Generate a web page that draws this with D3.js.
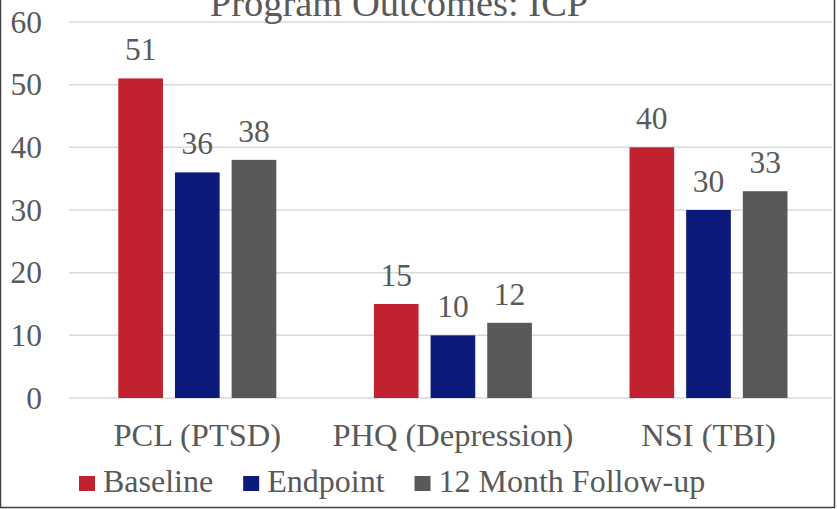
<!DOCTYPE html>
<html>
<head>
<meta charset="utf-8">
<script src="https://cdn.jsdelivr.net/npm/d3@7"></script>
<style>
  body { margin: 0; background: #fff; }
  svg { display: block; }
</style>
</head>
<body>
<div id="chart"></div>
<script>
var categories = ['PCL (PTSD)', 'PHQ (Depression)', 'NSI (TBI)'],
    seriesNames = ['Baseline', 'Endpoint', '12 Month Follow-up'],
    baseline = [51, 15, 40],
    endpoint = [36, 10, 30],
    followUp = [38, 12, 33],
    yTicks = [0, 10, 20, 30, 40, 50, 60],
    colors = ['#C0232F', '#0C1A7C', '#595959'];

var width = 837,
    height = 509,
    font = "'Times New Roman', 'Liberation Serif', Tinos, 'DejaVu Serif', serif",
    values = [baseline, endpoint, followUp];

var svg = d3.select('#chart').append('svg')
      .attr('width', width)
      .attr('height', height)
      .attr('font-family', font)
      .attr('fill', '#595959');

// outer chart border (top edge is cropped off)
svg.append('rect')
  .attr('x', 0.5).attr('y', -10)
  .attr('width', 834).attr('height', 517.5)
  .attr('fill', 'none')
  .attr('stroke', '#404040')
  .attr('stroke-width', 1.5);

var x0 = d3.scaleBand().domain(categories).range([69.5, 836.3]),
    x1 = d3.scaleBand().domain(seriesNames).range([-79, 79]).paddingInner(0.2116),
    y = d3.scaleLinear().domain([0, 60]).range([398, 22]);

// gridlines
svg.append('g').selectAll('line')
  .data(yTicks)
  .enter().append('line')
  .attr('x1', 69).attr('x2', 832)
  .attr('y1', function(d) { return y(d); })
  .attr('y2', function(d) { return y(d); })
  .attr('stroke', '#d9d9d9')
  .attr('stroke-width', 1.5);

// y tick labels
svg.append('g').selectAll('text')
  .data(yTicks)
  .enter().append('text')
  .attr('x', 42)
  .attr('y', function(d) { return y(d); })
  .attr('dy', '0.34em')
  .attr('text-anchor', 'end')
  .attr('font-size', 31.5)
  .text(function(d) { return d; });

// bars
var groups = svg.append('g').selectAll('g')
  .data(categories)
  .enter().append('g')
  .attr('transform', function(d) { return 'translate(' + (x0(d) + x0.bandwidth() / 2) + ',0)'; });

groups.each(function(cat, ci) {
  var g = d3.select(this),
      rows = seriesNames.map(function(s, si) { return {s: s, i: si, v: values[si][ci]}; });

  g.selectAll('rect')
    .data(rows)
    .enter().append('rect')
    .attr('x', function(d) { return x1(d.s); })
    .attr('width', x1.bandwidth())
    .attr('y', function(d) { return y(d.v); })
    .attr('height', function(d) { return y(0) - y(d.v); })
    .attr('fill', function(d) { return colors[d.i]; });

  g.selectAll('text')
    .data(rows)
    .enter().append('text')
    .attr('x', function(d) { return x1(d.s) + x1.bandwidth() / 2; })
    .attr('y', function(d) { return y(d.v) - 18; })
    .attr('text-anchor', 'middle')
    .attr('font-size', 31.5)
    .text(function(d) { return d.v; });
});

// category labels
svg.append('g').selectAll('text')
  .data(categories)
  .enter().append('text')
  .attr('x', function(d) { return x0(d) + x0.bandwidth() / 2; })
  .attr('y', 446)
  .attr('text-anchor', 'middle')
  .attr('font-size', 32.5)
  .text(function(d) { return d; });

// title
svg.append('text')
  .attr('x', 399)
  .attr('y', 16)
  .attr('text-anchor', 'middle')
  .attr('font-size', 38.5)
  .text('Program Outcomes: ICP');

// legend
var legend = svg.append('g'),
    lx = 79;

seriesNames.forEach(function(name, i) {
  var item = legend.append('g').attr('transform', 'translate(' + lx + ',0)');
  item.append('rect')
    .attr('x', 0).attr('y', 476)
    .attr('width', 16).attr('height', 15)
    .attr('fill', colors[i]);
  var t = item.append('text')
    .attr('x', 24).attr('y', 492)
    .attr('font-size', 32)
    .text(name);
  lx += 24 + t.node().getComputedTextLength() + 30;
});
</script>
</body>
</html>
